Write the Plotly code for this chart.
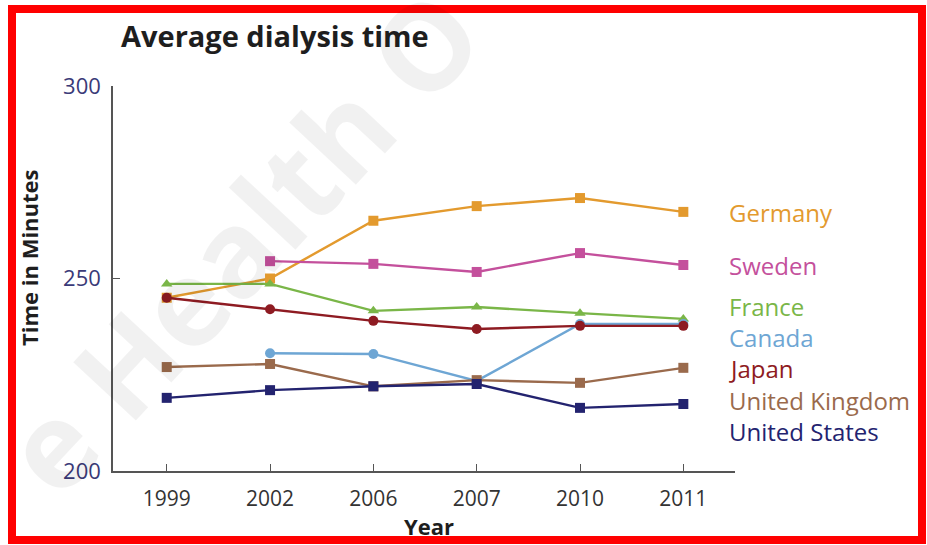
import plotly.graph_objects as go

years = ["1999", "2002", "2006", "2007", "2010", "2011"]

germany = [245, 250, 265, 268.8, 270.9, 267.3]
sweden = [None, 254.5, 253.8, 251.7, 256.6, 253.5]
france = [248.6, 248.6, 241.6, 242.6, 241.0, 239.5]
canada = [None, 230.6, 230.4, 223.4, 238.2, 238.2]
japan = [245, 242, 239, 236.9, 237.7, 237.7]
united_kingdom = [227, 227.8, 222, 223.6, 222.9, 226.8]
united_states = [219, 221, 222, 222.6, 216.4, 217.4]

series = [
    ("Germany", germany, "#e39a2e", "square", 212),
    ("Sweden", sweden, "#c4509c", "square", 265),
    ("France", france, "#7ab648", "triangle-up", 306),
    ("Canada", canada, "#6ea6d4", "circle", 337),
    ("Japan", japan, "#8e1b22", "circle", 368),
    ("United Kingdom", united_kingdom, "#9a6a4c", "square", 400),
    ("United States", united_states, "#23236f", "square", 431),
]

W, H = 927, 545
L, R, T, B = 113, 192, 86, 74
PW, PH = W - L - R, H - T - B


def px(x):
    return (x - L) / PW


def py(y):
    return (H - B - y) / PH


fig = go.Figure()
xs = list(range(len(years)))

# faint diagonal watermark behind everything
fig.add_annotation(
    x=px(240), y=py(240), xref="paper", yref="paper", showarrow=False,
    xanchor="center", yanchor="middle",
    text="<b>e Health O</b>", textangle=-47,
    font=dict(family="Open Sans", size=120, color="rgba(0,0,0,0.055)"),
)

for name, vals, color, sym, label_y in series:
    fig.add_trace(go.Scatter(
        x=xs, y=vals, mode="lines+markers", name=name,
        line=dict(color=color, width=2.4),
        marker=dict(symbol=sym, size=10, color=color),
        connectgaps=False, showlegend=False,
    ))
    fig.add_annotation(
        x=px(727), y=py(label_y), xref="paper", yref="paper",
        text=name, showarrow=False, xanchor="left", yanchor="middle",
        font=dict(family="Open Sans", size=24, color=color),
    )

annotations_extra = [
    dict(x=px(119), y=py(35), text="<b>Average dialysis time</b>", xanchor="left",
         font=dict(family="Open Sans", size=29, color="#1e1e1e"), textangle=0),
    dict(x=px(29), y=py(258), text="<b>Time in Minutes</b>", xanchor="center",
         font=dict(family="Open Sans", size=22, color="#1e1e1e"), textangle=-90),
    dict(x=px(429), y=py(526), text="<b>Year</b>", xanchor="center",
         font=dict(family="Open Sans", size=22, color="#1e1e1e"), textangle=0),
]
for a in annotations_extra:
    fig.add_annotation(xref="paper", yref="paper", showarrow=False,
                       yanchor="middle", **a)

# red frame around the whole graphic
fig.add_shape(type="rect", xref="paper", yref="paper",
              x0=px(12), x1=px(922), y0=py(540), y1=py(9),
              line=dict(color="#ff0000", width=8))

fig.update_xaxes(
    range=[-0.52, 5.5], tickmode="array", tickvals=xs, ticktext=years,
    showline=True, linecolor="#555", linewidth=1.5, showgrid=False, zeroline=False,
    ticks="inside", ticklen=7, tickcolor="#555", ticklabelstandoff=8,
    tickfont=dict(family="Open Sans", size=21, color="#333"),
)
fig.update_yaxes(
    range=[200, 300], tickvals=[200, 250, 300],
    showline=True, linecolor="#555", linewidth=1.5, showgrid=False, zeroline=False,
    ticks="inside", ticklen=7, tickcolor="#555", ticklabelstandoff=6,
    tickfont=dict(family="Open Sans", size=22, color="#3a3a78"),
)

fig.update_layout(
    width=W, height=H,
    margin=dict(l=L, r=R, t=T, b=B),
    paper_bgcolor="white", plot_bgcolor="white",
)

fig.write_html("out.html")
